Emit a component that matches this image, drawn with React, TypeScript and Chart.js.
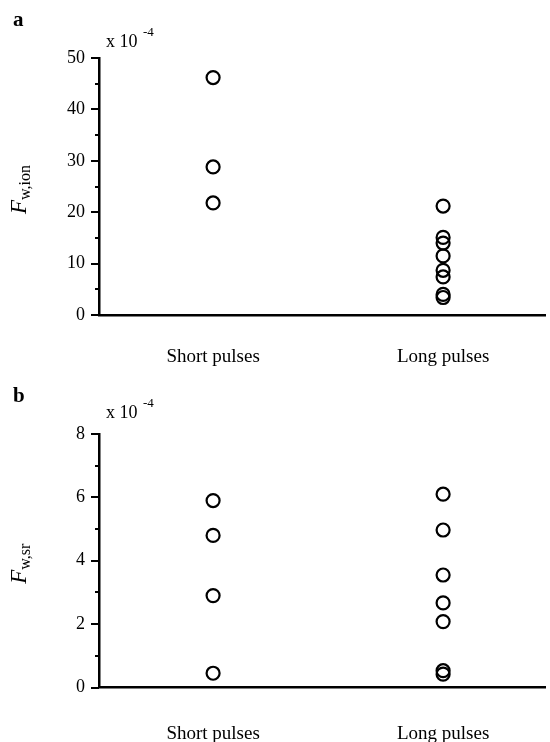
import React, { useEffect, useRef } from 'react';
import { Chart, registerables } from 'chart.js';
Chart.register(...registerables);

const categories = ['Short pulses', 'Long pulses'];
const ionShort = [46.2, 28.8, 21.8];
const ionLong = [21.2, 15.1, 14.0, 11.5, 8.7, 7.4, 4.0, 3.4];
const srShort = [5.9, 4.8, 2.9, 0.45];
const srLong = [6.1, 4.97, 3.55, 2.67, 2.08, 0.53, 0.42];
const ionTicks = [0, 10, 20, 30, 40, 50];
const srTicks = [0, 2, 4, 6, 8];

const SERIF = '"Liberation Serif", "Times New Roman", serif';
const W = 550;
const H = 371;

type Panel = {
  letter: string;
  sub: string;
  short: number[];
  long: number[];
  ticks: number[];
  top: number;
  bottom: number;
  labelPad: number;
};

const panels: Panel[] = [
  { letter: 'a', sub: 'w,ion', short: ionShort, long: ionLong, ticks: ionTicks, top: 58, bottom: 315, labelPad: 31 },
  { letter: 'b', sub: 'w,sr', short: srShort, long: srLong, ticks: srTicks, top: 63, bottom: 316.5, labelPad: 35 },
];

function PanelChart({ p }: { p: Panel }) {
  const ref = useRef<HTMLCanvasElement | null>(null);
  useEffect(() => {
    if (!ref.current) return;
    const majors = p.ticks;
    const minors: number[] = [];
    for (let i = 0; i < majors.length - 1; i++) minors.push((majors[i] + majors[i + 1]) / 2);

    const deco = {
      id: 'deco',
      afterDraw(chart: any) {
        const ctx = chart.ctx;
        const area = chart.chartArea;
        const y = chart.scales.y;
        ctx.save();
        ctx.strokeStyle = '#000';
        ctx.lineWidth = 2;
        majors.forEach((v) => {
          const py = Math.round(y.getPixelForValue(v));
          ctx.beginPath();
          ctx.moveTo(area.left - 8, py);
          ctx.lineTo(area.left, py);
          ctx.stroke();
        });
        minors.forEach((v) => {
          const py = Math.round(y.getPixelForValue(v));
          ctx.beginPath();
          ctx.moveTo(area.left - 4, py);
          ctx.lineTo(area.left, py);
          ctx.stroke();
        });
        ctx.fillStyle = '#000';
        ctx.textBaseline = 'alphabetic';
        ctx.textAlign = 'left';
        // panel letter
        ctx.font = `bold 21px ${SERIF}`;
        ctx.fillText(p.letter, 13, p.letter === 'a' ? 26 : 31);
        // multiplier
        ctx.font = `18px ${SERIF}`;
        ctx.fillText('x 10', 106, 47);
        ctx.font = `13px ${SERIF}`;
        ctx.fillText('-4', 143, 36);
        // y title
        const cy = (area.top + area.bottom) / 2 + 3;
        ctx.translate(26, cy);
        ctx.rotate(-Math.PI / 2);
        ctx.font = `italic 23px ${SERIF}`;
        const fW = ctx.measureText('F').width;
        ctx.font = `16px ${SERIF}`;
        const sW = ctx.measureText(p.sub).width;
        const total = fW + sW;
        ctx.font = `italic 23px ${SERIF}`;
        ctx.fillText('F', -total / 2, 0);
        ctx.font = `16px ${SERIF}`;
        ctx.fillText(p.sub, -total / 2 + fW, 4);
        ctx.restore();
      },
    };

    const mk = (vals: number[], idx: number) => ({
      data: vals.map((v) => ({ x: idx + 1, y: v })),
      showLine: false,
      pointStyle: 'circle',
      pointRadius: 6.5,
      pointBorderWidth: 2.2,
      borderColor: '#000',
      pointBorderColor: '#000',
      backgroundColor: 'rgba(0,0,0,0)',
      pointBackgroundColor: 'rgba(0,0,0,0)',
      clip: false,
    });

    const chart = new Chart(ref.current, {
      type: 'scatter',
      data: { datasets: [mk(p.short, 0), mk(p.long, 1)] as any },
      plugins: [deco],
      options: {
        responsive: false,
        animation: false,
        layout: { autoPadding: false, padding: { top: p.top, right: 5, left: 0, bottom: 0 } },
        plugins: { legend: { display: false }, tooltip: { enabled: false } },
        scales: {
          x: {
            type: 'linear',
            min: 0.504,
            max: 2.443,
            afterBuildTicks: (s: any) => {
              s.ticks = categories.map((_, i) => ({ value: i + 1 }));
            },
            afterFit: (s: any) => {
              s.height = H - p.bottom;
            },
            ticks: {
              color: '#000',
              font: { family: SERIF, size: 19 },
              padding: p.labelPad,
              maxRotation: 0,
              autoSkip: false,
              callback: (v: any) => categories[Math.round(Number(v)) - 1] ?? '',
            },
            grid: { display: true, drawOnChartArea: false, drawTicks: false },
            border: { display: true, color: '#000', width: 2.5 },
          },
          y: {
            min: majors[0],
            max: majors[majors.length - 1],
            afterBuildTicks: (s: any) => {
              s.ticks = majors.map((v) => ({ value: v }));
            },
            afterFit: (s: any) => {
              s.width = 99;
            },
            ticks: {
              color: '#000',
              font: { family: SERIF, size: 18 },
              padding: 14,
            },
            grid: { display: true, drawOnChartArea: false, drawTicks: false },
            border: { display: true, color: '#000', width: 2.5 },
          },
        },
      } as any,
    });
    return () => chart.destroy();
  }, [p]);
  return <canvas ref={ref} width={W} height={H} style={{ display: 'block', width: W, height: H }} />;
}

export default function App() {
  return (
    <div style={{ position: 'absolute', left: 0, top: 0, width: W, height: 742, background: '#fff' }}>
      {panels.map((p) => (
        <PanelChart key={p.letter} p={p} />
      ))}
    </div>
  );
}
